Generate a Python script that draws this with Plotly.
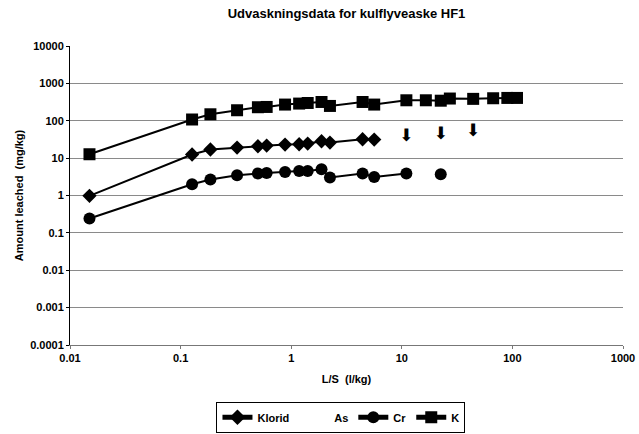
import plotly.graph_objects as go

# ---- data ----
k_x = [0.015, 0.127, 0.186, 0.324, 0.50, 0.60, 0.88, 1.18, 1.41, 1.88, 2.24,
       4.42, 5.63, 11.0, 16.5, 22.5, 27.2, 44.2, 67, 90, 110]
k_y = [12.7, 108, 149, 191, 230, 234, 271, 288, 299, 318, 249,
       318, 271, 353, 353, 344, 393, 385, 400, 408, 408]

klorid_x = [0.015, 0.127, 0.186, 0.324, 0.50, 0.60, 0.88, 1.18, 1.41, 1.88, 2.24, 4.42, 5.63]
klorid_y = [0.98, 12.5, 17, 19.2, 20.8, 21.7, 23.1, 23.5, 24.5, 28.3, 26.1, 32, 31.4]

# values below detection limit (drawn as down arrows)
bdl_x = [11.0, 22.5, 44.2]
bdl_y = [37, 43, 50]

cr_x = [0.015, 0.127, 0.186, 0.324, 0.50, 0.60, 0.88, 1.18, 1.41, 1.88, 2.24,
        4.42, 5.63, 11.0, 16.5, 22.5]
cr_y = [0.243, 2.0, 2.68, 3.49, 3.87, 4.02, 4.27, 4.55, 4.55, 5.05, 3.03,
        3.87, 3.14, 3.87, None, 3.72]

y_ticks = [0.0001, 0.001, 0.01, 0.1, 1, 10, 100, 1000, 10000]
y_ticktext = ["0.0001", "0.001", "0.01", "0.1", "1", "10", "100", "1000", "10000"]
grid_vals = [0.001, 0.01, 0.1, 1, 10, 100, 1000]
x_ticks = [0.01, 0.1, 1, 10, 100, 1000]
x_ticktext = ["0.01", "0.1", "1", "10", "100", "1000"]

FONT = "Liberation Sans, Arial, sans-serif"

fig = go.Figure()

fig.add_trace(go.Scatter(
    x=klorid_x, y=klorid_y, name="Klorid", mode="lines+markers",
    line=dict(color="black", width=2),
    marker=dict(symbol="diamond", size=11, color="black"),
))
fig.add_trace(go.Scatter(
    x=[None], y=[None], name="As", mode="markers",
    marker=dict(size=1, color="rgba(0,0,0,0)"),
))
fig.add_trace(go.Scatter(
    x=cr_x, y=cr_y, name="Cr", mode="lines+markers", connectgaps=False,
    line=dict(color="black", width=2),
    marker=dict(symbol="circle", size=12, color="black"),
))
fig.add_trace(go.Scatter(
    x=k_x, y=k_y, name="K", mode="lines+markers",
    line=dict(color="black", width=2),
    marker=dict(symbol="square", size=12, color="black"),
))
fig.add_trace(go.Scatter(
    x=bdl_x, y=bdl_y, mode="text", text=["⬇"] * len(bdl_x),
    textposition="middle center", showlegend=False,
    textfont=dict(family="DejaVu Sans", size=17, color="black"),
))
# helper trace for grid-only overlay axis
fig.add_trace(go.Scatter(x=[None], y=[None], yaxis="y2", showlegend=False,
                         mode="markers", hoverinfo="skip"))

fig.update_layout(
    width=639, height=434,
    margin=dict(l=70, r=16, t=46, b=89, autoexpand=False),
    paper_bgcolor="white", plot_bgcolor="white",
    font=dict(family=FONT, color="black", size=11),
    title=dict(text="<b>Udvaskningsdata for kulflyveaske HF1</b>",
               x=0.5, xref="paper", y=0.968, yanchor="middle",
               font=dict(family=FONT, size=13, color="black")),
    xaxis=dict(
        type="log", range=[-2, 3], tickvals=x_ticks, ticktext=x_ticktext,
        showgrid=False, zeroline=False,
        showline=True, linecolor="#777777", linewidth=1,
        ticks="outside", ticklen=3, tickcolor="#777777",
        tickfont=dict(family=FONT, size=11, color="black", weight="bold"),
        title=dict(text="<b>L/S  (l/kg)</b>", standoff=12,
                   font=dict(family=FONT, size=11, color="black")),
    ),
    yaxis=dict(
        type="log", range=[-4, 4], tickvals=y_ticks, ticktext=y_ticktext,
        showgrid=False, zeroline=False,
        showline=True, linecolor="black", linewidth=1,
        ticks="outside", ticklen=3, tickcolor="black",
        tickfont=dict(family=FONT, size=11, color="black", weight="bold"),
        title=dict(text="<b>Amount leached  (mg/kg)</b>", standoff=4,
                   font=dict(family=FONT, size=11, color="black")),
    ),
    yaxis2=dict(
        type="log", range=[-4, 4], overlaying="y", tickvals=grid_vals,
        showticklabels=False, ticks="", showline=False, zeroline=False,
        showgrid=True, gridcolor="#8a8a8a", gridwidth=1,
    ),
    legend=dict(
        orientation="h", x=0.49, xanchor="center", y=-0.19, yanchor="top",
        bordercolor="black", borderwidth=1, bgcolor="white",
        font=dict(family=FONT, size=11, color="black", weight="bold"),
        itemwidth=30, tracegroupgap=0, itemsizing="constant",
    ),
    showlegend=True,
)

fig.write_html("out.html")
